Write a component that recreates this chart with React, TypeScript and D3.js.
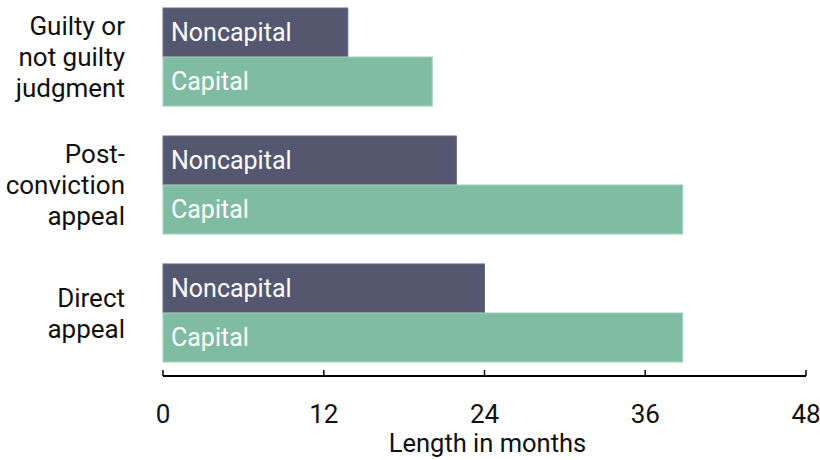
import React from "react";
import * as d3 from "d3";

const categories = ["Guilty or not guilty judgment", "Post-conviction appeal", "Direct appeal"];
const categoryLines = [["Guilty or", "not guilty", "judgment"], ["Post-", "conviction", "appeal"], ["Direct", "appeal"]];
const seriesNames = ["Noncapital", "Capital"];
const noncapital = [13.8, 21.9, 24];
const capital = [20.1, 38.8, 38.8];
const ticks = [0, 12, 24, 36, 48];
const colors = ["#53576f", "#80bca3"];
const strokes = ["#6a6e85", "#a3d1bd"];

export default function App() {
  const W = 820, H = 460;
  const x = d3.scaleLinear().domain([0, 48]).range([163, 806]);
  const y = d3.scaleBand<string>().domain(categories).range([8, 362]).paddingInner(0.234).paddingOuter(0);
  const ys = d3.scaleBand<string>().domain(seriesNames).range([0, y.bandwidth()]);
  const values = [noncapital, capital];
  const font = "Roboto, 'Noto Sans', sans-serif";
  const axisY = 376;
  return (
    <svg width={W} height={H} style={{ position: "absolute", left: 0, top: 0, fontFamily: font }}>
      {categories.map((c, i) => (
        <g key={c} transform={`translate(0,${y(c)})`}>
          {seriesNames.map((s, j) => (
            <g key={s}>
              <rect x={x(0)} y={ys(s)} width={x(values[j][i]) - x(0)} height={ys.bandwidth()} fill={colors[j]} stroke={strokes[j]} strokeWidth={1} />
              <text x={x(0) + 8} y={(ys(s) as number) + ys.bandwidth() / 2} dy="0.35em" fill="#fff" fontSize={25}>{s}</text>
            </g>
          ))}
          {categoryLines[i].map((line, k) => (
            <text key={k} x={125} y={y.bandwidth() / 2 + (k - (categoryLines[i].length - 1) / 2) * 31} dy="0.35em" textAnchor="end" fontSize={26} fill="#111">{line}</text>
          ))}
        </g>
      ))}
      <line x1={x(0)} x2={x(48)} y1={axisY} y2={axisY} stroke="#000" strokeWidth={2} />
      {ticks.map(t => (
        <g key={t}>
          <line x1={x(t)} x2={x(t)} y1={axisY} y2={axisY - 6} stroke="#000" strokeWidth={1.5} />
          <text x={x(t)} y={423} textAnchor="middle" fontSize={26} fill="#111">{t}</text>
        </g>
      ))}
      <text x={(x(0) + x(48)) / 2 + 3} y={452} textAnchor="middle" fontSize={25.5} fill="#111">Length in months</text>
    </svg>
  );
}
